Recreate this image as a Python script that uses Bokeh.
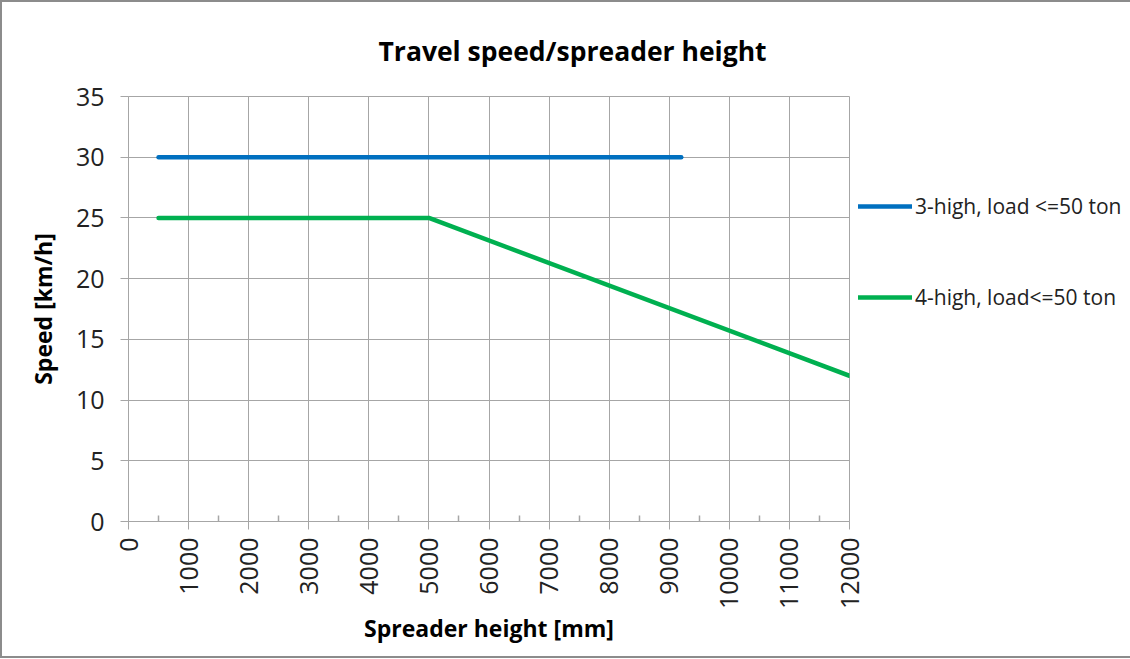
from bokeh.plotting import figure
from bokeh.models import Range1d, FixedTicker, Legend, LegendItem
from bokeh.embed import file_html
from bokeh.resources import INLINE
import math

# Data
x_3high = [500, 9200]
y_3high = [30, 30]
x_4high = [500, 5000, 12000]
y_4high = [25, 25, 12]
labels = ["3-high, load <=50 ton", "4-high, load<=50 ton"]
x_ticks = list(range(0, 12001, 1000))
y_ticks = list(range(0, 36, 5))

FONT = "Open Sans"
GRID = "#a6a6a6"

p = figure(frame_width=721, frame_height=425, output_backend="svg", toolbar_location=None,
           x_range=Range1d(0, 12000), y_range=Range1d(0, 35),
           min_border_left=126, min_border_top=93, min_border_right=0, min_border_bottom=135)
p.styles = {"border": "2px solid #8c8c8c"}

p.title.text = "Travel speed/spreader height"
p.title.text_font = FONT
p.title.text_font_size = "26.5px"
p.title.text_font_style = "bold"
p.title.text_color = "black"
p.title.align = "left"
p.title.offset = 250
p.title.standoff = 56

p.outline_line_color = GRID
p.background_fill_color = "white"
p.border_fill_color = "white"

for ax in (p.xaxis[0], p.yaxis[0]):
    ax.axis_line_color = GRID
    ax.major_tick_line_color = GRID
    ax.minor_tick_line_color = GRID
    ax.major_label_text_font = FONT
    ax.major_label_text_font_size = "25px"
    ax.major_label_text_color = "#222222"
    ax.axis_label_text_font = FONT
    ax.axis_label_text_font_size = "23px"
    ax.axis_label_text_font_style = "bold"
    ax.axis_label_text_color = "black"

p.xaxis.ticker = FixedTicker(ticks=x_ticks, minor_ticks=list(range(500, 12000, 1000)))
p.xaxis.major_tick_in = 0
p.xaxis.major_tick_out = 8
p.xaxis.minor_tick_in = 6
p.xaxis.minor_tick_out = 0
p.xaxis.minor_tick_line_width = 1.5
p.xaxis.major_label_orientation = math.pi / 2
p.xaxis.major_label_standoff = 8
p.xaxis.axis_label = "Spreader height [mm]"
p.xaxis.axis_label_standoff = 0

p.yaxis.ticker = FixedTicker(ticks=y_ticks)
p.yaxis.major_tick_in = 0
p.yaxis.major_tick_out = 8
p.yaxis.minor_tick_line_color = None
p.yaxis.major_label_standoff = 16
p.yaxis.axis_label = "Speed [km/h]"
p.yaxis.axis_label_standoff = 14

p.xgrid.ticker = FixedTicker(ticks=x_ticks)
p.ygrid.ticker = FixedTicker(ticks=y_ticks)
p.xgrid.grid_line_color = GRID
p.ygrid.grid_line_color = GRID

r1 = p.line(x_3high, y_3high, line_color="#0070C0", line_width=4.5, line_cap="round")
r2 = p.line(x_4high, y_4high, line_color="#00B050", line_width=4.5, line_cap="round")

legend = Legend(items=[LegendItem(label=labels[0], renderers=[r1]),
                       LegendItem(label=labels[1], renderers=[r2])],
                location="top_left")
legend.margin = 9
legend.padding = 0
legend.border_line_color = None
legend.background_fill_alpha = 0
legend.title = " "
legend.title_text_font_size = "10px"
legend.title_standoff = 76
legend.glyph_width = 54
legend.glyph_height = 20
legend.label_height = 20
legend.spacing = 63
legend.label_standoff = 3
legend.label_text_font = FONT
legend.label_text_font_size = "21px"
legend.label_text_color = "#222222"
p.add_layout(legend, "right")

open("out.html", "w").write(file_html(p, INLINE))
